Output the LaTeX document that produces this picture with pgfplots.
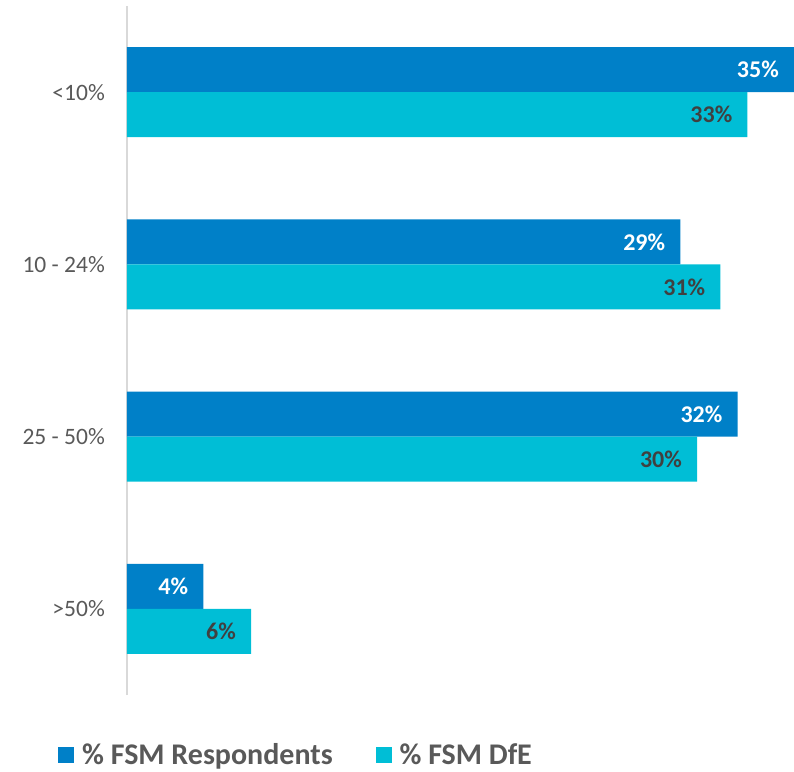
\documentclass[border=0pt]{standalone}
\usepackage{fontspec}
\setmainfont{Carlito}
\usepackage{pgfplots}
\usepackage{pgfplotstable}
\pgfplotsset{compat=1.18}

\definecolor{fsmresp}{HTML}{0080C8}
\definecolor{fsmdfe}{HTML}{00BED6}
\definecolor{labgray}{HTML}{595959}
\definecolor{valgray}{HTML}{404040}
\definecolor{axisgray}{HTML}{D9D9D9}

% y: category position (3 = top), values in percent, labels rounded
\pgfplotstableread{
y resp resplab dfe dfelab
3 34.96 35 32.52 33
2 29.00 29 31.10 31
1 32.00 32 29.88 30
0 4.00 4 6.50 6
}\fsmdata

\begin{document}
\begin{tikzpicture}
\useasboundingbox (-127pt,-76pt) rectangle (667pt,695pt);
\begin{axis}[
    xbar, scale only axis,
    width=667pt, height=689pt,
    xmin=0, xmax=34.96,
    ymin=-0.5, ymax=3.5,
    bar width=45pt,
    axis x line=none,
    axis y line=left,
    y axis line style={-, draw=axisgray, line width=1.5pt},
    ytick={0,1,2,3},
    yticklabels={>50\%, 25 - 50\%, 10 - 24\%, <10\%},
    major tick length=0pt,
    yticklabel style={font=\fontsize{23.5}{28}\selectfont, text=labgray, inner sep=0pt, xshift=-22pt},
    point meta=explicit symbolic,
    nodes near coords={\pgfplotspointmeta\%},
    every node near coord/.append style={anchor=east, inner sep=0pt, xshift=-15pt,
        font=\fontsize{24}{28}\selectfont\bfseries},
    clip=false,
    legend style={at={(axis description cs:-0.1034,-0.087)}, anchor=west,
        draw=none, fill=none, inner sep=0pt, legend columns=2,
        font=\fontsize{30}{34}\selectfont\bfseries, text=labgray,
        /tikz/every even column/.append style={column sep=41pt}},
    legend image code/.code={\fill[#1] (0pt,-8pt) rectangle (16pt,8pt); \path (22pt,0pt);},
]
\addplot[draw=none, fill=fsmresp, bar shift=22.5pt,
    every node near coord/.append style={text=white}]
    table[x=resp, y=y, meta=resplab] {\fsmdata};
\addplot[draw=none, fill=fsmdfe, bar shift=-22.5pt,
    every node near coord/.append style={text=valgray}]
    table[x=dfe, y=y, meta=dfelab] {\fsmdata};
\legend{\% FSM Respondents, \% FSM DfE}
\end{axis}
\end{tikzpicture}
\end{document}
